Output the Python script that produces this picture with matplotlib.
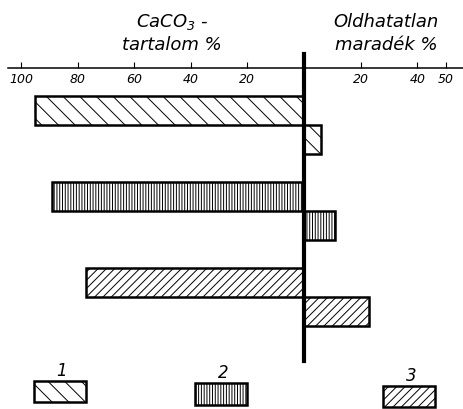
import matplotlib.pyplot as plt
from matplotlib.patches import Rectangle

plt.rcParams['font.family'] = ['DejaVu Sans']
plt.rcParams['font.style'] = 'italic'
plt.rcParams['mathtext.default'] = 'it'
plt.rcParams['hatch.linewidth'] = 0.7

# samples 1-3: carbonate content (left) and insoluble residue (right), %
samples = [1, 2, 3]
caco3 = [95, 89, 77]
residue = [6, 11, 23]
hatches = ['\\\\', '||||||', '////']

tick_vals = [-100, -80, -60, -40, -20, 20, 40, 50]
tick_text = ['100', '80', '60', '40', '20', '20', '40', '50']

W, H = 464, 410
fig = plt.figure(figsize=(W / 100, H / 100), dpi=100)
ax = fig.add_axes([0, 0, 1, (H - 69) / H])

pos = [i for i in range(len(samples))]
h = 0.337
for p, c, r, ht in zip(pos, caco3, residue, hatches):
    ax.barh(p - h / 2, -c, height=h, left=0, color='white', edgecolor='black',
            linewidth=1.8, hatch=ht)
    ax.barh(p + h / 2, r, height=h, left=0, color='white', edgecolor='black',
            linewidth=1.8, hatch=ht)

ax.axvline(0, ymin=0.141, ymax=1.041, color='black', lw=3, clip_on=False)

ax.set_xlim(-107.4, 56.5)
ax.set_ylim(3.302, -0.663)
for s in ['left', 'right', 'bottom']:
    ax.spines[s].set_visible(False)
ax.spines['top'].set_bounds(-104.5, 56.5)
ax.spines['top'].set_linewidth(1.1)

ax.xaxis.tick_top()
ax.set_xticks(tick_vals)
ax.set_xticklabels(tick_text)
ax.tick_params(axis='x', direction='out', length=4, width=0.8, pad=-16, labelsize=9)
ax.set_yticks([])


def px(x, y):
    return x / W, 1 - y / H


# axis titles
fig.text(*px(172, 27), r'CaCO$_{\mathit{3}}$ -', ha='center', va='baseline', fontsize=13)
fig.text(*px(172, 50), 'tartalom %', ha='center', va='baseline', fontsize=13)
fig.text(*px(386, 27), 'Oldhatatlan', ha='center', va='baseline', fontsize=13)
fig.text(*px(386, 50), 'maradék %', ha='center', va='baseline', fontsize=13)

# legend boxes with sample numbers above
legend_boxes = [(34, 382, 52, 21), (195, 384, 52, 22), (383, 387, 52, 21)]
for s, ht, (x, y, w, hh) in zip(samples, hatches, legend_boxes):
    x0, y0 = px(x, y + hh)
    fig.add_artist(Rectangle((x0, y0), w / W, hh / H, transform=fig.transFigure,
                             facecolor='white', edgecolor='black', lw=1.8, hatch=ht))
    fig.text(*px(x + w / 2 + 2, y - 6), str(s), ha='center', va='baseline', fontsize=12)

fig.savefig('out.png', dpi=100)
